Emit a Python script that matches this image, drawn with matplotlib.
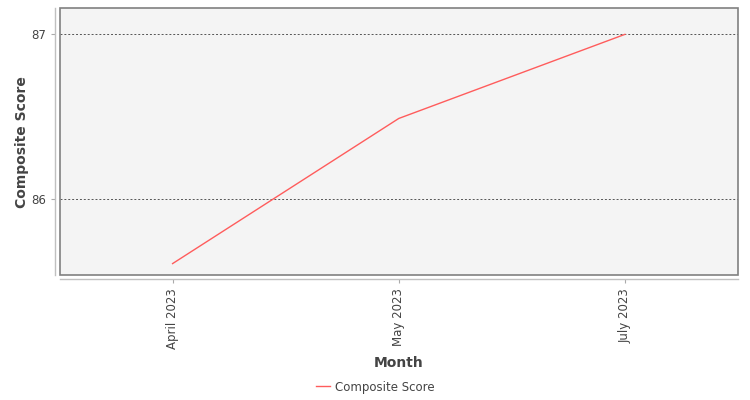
import matplotlib

matplotlib.use("Agg")

import matplotlib.pyplot as plt
from matplotlib.patches import Rectangle
from matplotlib.lines import Line2D

# data
months = ["April 2023", "May 2023", "July 2023"]
scores = [85.61, 86.49, 87.0]

LINE_COLOR = "#ff5c5c"
TEXT_COLOR = "#444444"

fig = plt.figure(figsize=(7.5, 4), dpi=100)
ax = fig.add_axes([59.5 / 750, 1 - 275.3 / 400, (738 - 59.5) / 750, (275.3 - 8.3) / 400])
ax.set_facecolor("#f4f4f4")

x = list(range(len(months)))
ax.plot(x, scores, color=LINE_COLOR, linewidth=1.0, label="Composite Score")

ax.set_xlim(-0.5, len(months) - 0.5)
ax.set_ylim(85.539, 87.158)
ax.set_yticks([86, 87])
ax.set_xticks(x)
ax.set_xticklabels(months)

ax.grid(axis="y", linestyle=(0, (2, 2)), color="#555555", linewidth=0.7)
ax.set_axisbelow(True)

# border of plot area
for s in ["top", "right"]:
    ax.spines[s].set_visible(False)
ax.add_patch(Rectangle((0, 0), 1, 1, transform=ax.transAxes, fill=False,
                       edgecolor="#808080", linewidth=1.2, clip_on=False, zorder=5))

# offset axis lines
for s in ["left", "bottom"]:
    ax.spines[s].set_position(("outward", 3))
    ax.spines[s].set_color("#c0c0c0")
    ax.spines[s].set_linewidth(1.0)

ax.tick_params(axis="both", colors="#aaaaaa", labelcolor=TEXT_COLOR,
               labelsize=8.5, length=3, width=0.8)
ax.tick_params(axis="x", labelrotation=90)

ax.set_xlabel("Month", fontsize=10, fontweight="bold", color=TEXT_COLOR, labelpad=5)
ax.set_ylabel("Composite Score", fontsize=10, fontweight="bold", color=TEXT_COLOR, labelpad=2)

handle = Line2D([], [], color=LINE_COLOR, linewidth=1.0)
fig.legend([handle], ["Composite Score"], loc="center", bbox_to_anchor=(0.5, 1 - 387 / 400),
           frameon=False, fontsize=8.5, labelcolor=TEXT_COLOR, handlelength=1.2,
           handletextpad=0.4)

plt.savefig("out.png", dpi=100)
plt.close()
